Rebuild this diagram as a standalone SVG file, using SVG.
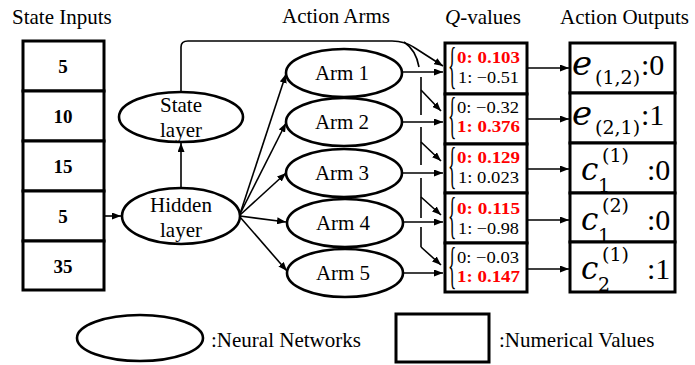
<svg xmlns="http://www.w3.org/2000/svg" width="695" height="365" viewBox="0 0 695 365">
  <style>
    .hdr { font-family: "Liberation Serif", "Times New Roman", serif; font-size: 21px; fill: #000; }
    .num { font-family: "Liberation Serif", "Times New Roman", serif; font-size: 19px; font-weight: bold; text-anchor: middle; fill: #000; }
    .lbl { font-family: "Liberation Serif", "Times New Roman", serif; font-size: 21px; text-anchor: middle; fill: #000; }
    .box { fill: #fff; stroke: #000; stroke-width: 3; }
    .nn { fill: #fff; stroke: #000; stroke-width: 2.6; }
    .con { fill: none; stroke: #000; stroke-width: 1.6; }
    .arr { fill: none; stroke: #000; stroke-width: 1.6; marker-end: url(#ah); }
    .q { font-family: "Liberation Serif", "Times New Roman", serif; font-size: 17.5px; fill: #000; }
    .qb { font-family: "Liberation Serif", "Times New Roman", serif; font-size: 17.5px; font-weight: bold; fill: #ff0000; }
    .brace { font-family: "Liberation Serif", "Times New Roman", serif; font-size: 50px; fill: #000; }
    .mi { font-family: "DejaVu Serif", serif; font-style: italic; fill: #000; }
    .mr { font-family: "DejaVu Serif", serif; fill: #000; }
    .tm { font-family: "Liberation Serif", "Times New Roman", serif; font-size: 30px; fill: #000; }
  </style>
  <defs>
    <marker id="ah" markerUnits="userSpaceOnUse" markerWidth="9" markerHeight="7" refX="9" refY="3.5" orient="auto">
      <path d="M0,0 L9,3.5 L0,7 z" fill="#000"/>
    </marker>
  </defs>

  <rect width="695" height="365" fill="#fff"/>

  <!-- column headings -->
  <text class="hdr" x="12" y="24">State Inputs</text>
  <text class="hdr" x="282" y="23">Action Arms</text>
  <text class="hdr" x="445" y="24"><tspan font-style="italic">Q</tspan>-values</text>
  <text class="hdr" x="560" y="24">Action Outputs</text>

  <!-- connectors -->
  <g id="connectors">
    <!-- input to hidden layer -->
    <line class="arr" x1="105" y1="216" x2="121" y2="216"/>
    <!-- hidden layer to state layer -->
    <line class="arr" x1="181" y1="188" x2="181" y2="143"/>
    <!-- state layer bus to Q-values -->
    <path class="arr" d="M181,92 V47 Q181,41 188,41 H392 Q405,41 415,48 L443,66"/>
    <path class="con" d="M404,42 Q416,50 419,67"/>
    <line class="con" x1="421" y1="77" x2="421" y2="115"/>
    <line class="con" x1="421" y1="127" x2="421" y2="165"/>
    <line class="con" x1="421" y1="178" x2="421" y2="218"/>
    <line class="con" x1="421" y1="227" x2="421" y2="247"/>
    <line class="arr" x1="421" y1="90" x2="441" y2="111"/>
    <line class="arr" x1="421" y1="142" x2="441" y2="161"/>
    <line class="arr" x1="421" y1="197" x2="441" y2="215"/>
    <line class="arr" x1="421" y1="247" x2="441" y2="265"/>
    <!-- hidden layer to arms -->
    <line class="arr" x1="240" y1="214" x2="286" y2="74"/>
    <line class="arr" x1="240" y1="214" x2="286" y2="123"/>
    <line class="arr" x1="240" y1="215" x2="286" y2="173"/>
    <line class="arr" x1="240" y1="216" x2="286" y2="222"/>
    <line class="arr" x1="240" y1="217" x2="287" y2="271"/>
    <!-- arms to Q-values -->
    <line class="arr" x1="401" y1="72" x2="443" y2="72"/>
    <line class="arr" x1="401" y1="122" x2="443" y2="122"/>
    <line class="arr" x1="401" y1="173" x2="443" y2="173"/>
    <line class="arr" x1="401" y1="222" x2="443" y2="222"/>
    <line class="arr" x1="401" y1="273" x2="443" y2="273"/>
    <!-- Q-values to outputs -->
    <line class="arr" x1="528" y1="68" x2="569" y2="68"/>
    <line class="arr" x1="528" y1="119" x2="569" y2="119"/>
    <line class="arr" x1="528" y1="169" x2="569" y2="169"/>
    <line class="arr" x1="528" y1="220" x2="569" y2="220"/>
    <line class="arr" x1="528" y1="269" x2="569" y2="269"/>
  </g>

  <!-- state inputs -->
  <g id="state-inputs">
    <rect class="box" x="23" y="41" width="81" height="50"/>
    <rect class="box" x="23" y="91" width="81" height="50"/>
    <rect class="box" x="23" y="141" width="81" height="50"/>
    <rect class="box" x="23" y="191" width="81" height="50"/>
    <rect class="box" x="23" y="241" width="81" height="49"/>
    <text class="num" x="63" y="73">5</text>
    <text class="num" x="63" y="123">10</text>
    <text class="num" x="63" y="173">15</text>
    <text class="num" x="63" y="223">5</text>
    <text class="num" x="63" y="273">35</text>
  </g>

  <g id="state-layer">
    <ellipse class="nn" cx="181" cy="117" rx="62" ry="25"/>
    <text class="lbl" x="181" y="112">State</text>
    <text class="lbl" x="181" y="137">layer</text>
  </g>

  <g id="hidden-layer">
    <ellipse class="nn" cx="181" cy="216" rx="59" ry="28"/>
    <text class="lbl" x="181" y="212">Hidden</text>
    <text class="lbl" x="181" y="237">layer</text>
  </g>

  <g id="arm-1">
    <ellipse class="nn" cx="344" cy="73" rx="58" ry="24"/>
    <text class="lbl" x="342" y="80">Arm 1</text>
  </g>
  <g id="arm-2">
    <ellipse class="nn" cx="344" cy="122" rx="58" ry="24"/>
    <text class="lbl" x="342" y="129">Arm 2</text>
  </g>
  <g id="arm-3">
    <ellipse class="nn" cx="344" cy="173" rx="58" ry="24"/>
    <text class="lbl" x="342" y="180">Arm 3</text>
  </g>
  <g id="arm-4">
    <ellipse class="nn" cx="345" cy="223" rx="58" ry="24"/>
    <text class="lbl" x="343" y="230">Arm 4</text>
  </g>
  <g id="arm-5">
    <ellipse class="nn" cx="345" cy="273" rx="58" ry="24"/>
    <text class="lbl" x="343" y="280">Arm 5</text>
  </g>

  <!-- Q-values -->
  <g id="q-values">
    <rect class="box" x="445" y="43" width="82" height="51"/>
    <rect class="box" x="445" y="94" width="82" height="50"/>
    <rect class="box" x="445" y="144" width="82" height="49"/>
    <rect class="box" x="445" y="193" width="82" height="50"/>
    <rect class="box" x="445" y="243" width="82" height="49"/>

    <text class="brace" transform="translate(448,82) scale(0.35,1)">{</text>
    <text class="qb" x="457" y="63" textLength="63" lengthAdjust="spacingAndGlyphs">0: 0.103</text>
    <text class="q" x="458" y="83" textLength="61" lengthAdjust="spacingAndGlyphs">1: −0.51</text>

    <text class="brace" transform="translate(448,132) scale(0.35,1)">{</text>
    <text class="q" x="457" y="113" textLength="62" lengthAdjust="spacingAndGlyphs">0: −0.32</text>
    <text class="qb" x="457" y="132" textLength="63" lengthAdjust="spacingAndGlyphs">1: 0.376</text>

    <text class="brace" transform="translate(448,182) scale(0.35,1)">{</text>
    <text class="qb" x="457" y="163" textLength="63" lengthAdjust="spacingAndGlyphs">0: 0.129</text>
    <text class="q" x="458" y="183" textLength="61" lengthAdjust="spacingAndGlyphs">1: 0.023</text>

    <text class="brace" transform="translate(448,232) scale(0.35,1)">{</text>
    <text class="qb" x="457" y="214" textLength="63" lengthAdjust="spacingAndGlyphs">0: 0.115</text>
    <text class="q" x="458" y="234" textLength="61" lengthAdjust="spacingAndGlyphs">1: −0.98</text>

    <text class="brace" transform="translate(448,282) scale(0.35,1)">{</text>
    <text class="q" x="457" y="263" textLength="62" lengthAdjust="spacingAndGlyphs">0: −0.03</text>
    <text class="qb" x="457" y="282" textLength="63" lengthAdjust="spacingAndGlyphs">1: 0.147</text>
  </g>

  <!-- action outputs -->
  <g id="action-outputs">
    <rect class="box" x="570" y="43" width="105" height="50"/>
    <rect class="box" x="570" y="93" width="105" height="50"/>
    <rect class="box" x="570" y="143" width="105" height="50"/>
    <rect class="box" x="570" y="193" width="105" height="49"/>
    <rect class="box" x="570" y="242" width="105" height="50"/>

    <text class="mi" x="572" y="75" font-size="34">e</text>
    <text class="mr" x="595" y="84" font-size="19">(1,2)</text>
    <text class="tm" x="641" y="75">:0</text>

    <text class="mi" x="572" y="125" font-size="34">e</text>
    <text class="mr" x="595" y="134" font-size="19">(2,1)</text>
    <text class="tm" x="641" y="125">:1</text>

    <text class="mi" x="581" y="180" font-size="31">c</text>
    <text class="mr" x="602" y="162" font-size="19">(1)</text>
    <text class="mr" x="598" y="192" font-size="19">1</text>
    <text class="tm" x="647" y="180">:0</text>

    <text class="mi" x="581" y="230" font-size="31">c</text>
    <text class="mr" x="602" y="212" font-size="19">(2)</text>
    <text class="mr" x="598" y="242" font-size="19">1</text>
    <text class="tm" x="647" y="230">:0</text>

    <text class="mi" x="581" y="279" font-size="31">c</text>
    <text class="mr" x="602" y="261" font-size="19">(1)</text>
    <text class="mr" x="598" y="291" font-size="19">2</text>
    <text class="tm" x="647" y="279">:1</text>
  </g>

  <!-- legend -->
  <g id="legend-networks">
    <ellipse class="nn" cx="140" cy="338" rx="63" ry="23"/>
    <text class="hdr" x="211" y="347">:Neural Networks</text>
  </g>
  <g id="legend-values">
    <rect class="box" x="396" y="314" width="93" height="48"/>
    <text class="hdr" x="499" y="347">:Numerical Values</text>
  </g>
</svg>
